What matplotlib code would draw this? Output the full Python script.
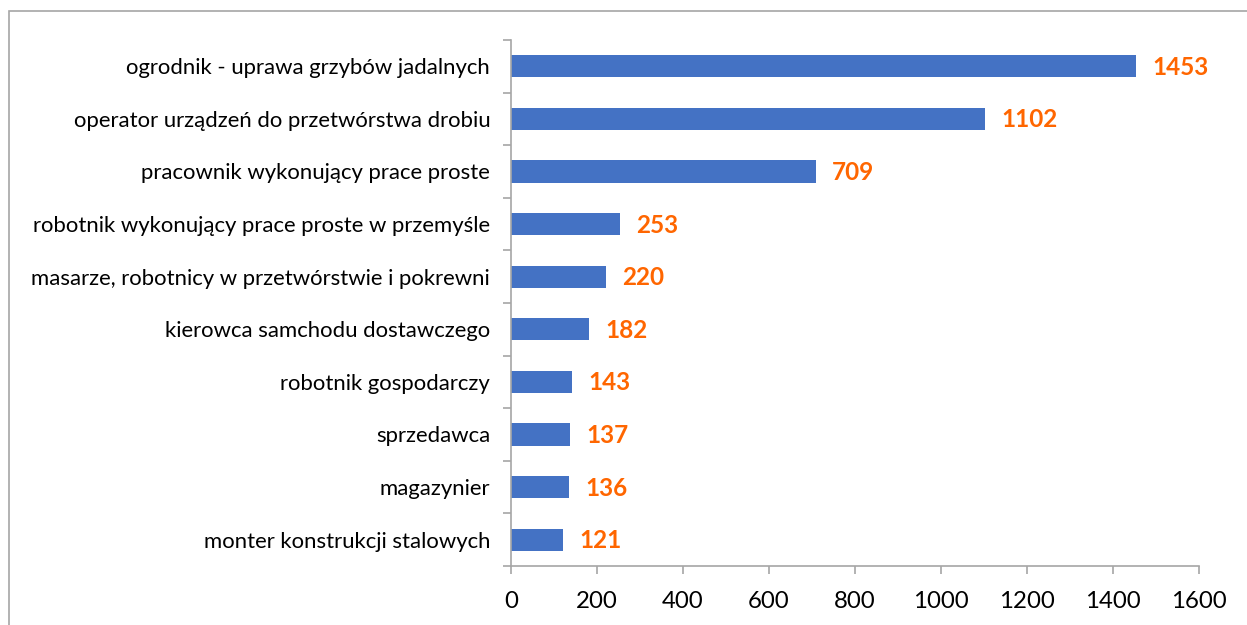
import matplotlib.pyplot as plt
from matplotlib.patches import Rectangle

# dane (od góry)
zawody = [
    'ogrodnik - uprawa grzybów jadalnych',
    'operator urządzeń do przetwórstwa drobiu',
    'pracownik wykonujący prace proste',
    'robotnik wykonujący prace proste w przemyśle',
    'masarze, robotnicy w przetwórstwie i pokrewni',
    'kierowca samchodu dostawczego',
    'robotnik gospodarczy',
    'sprzedawca',
    'magazynier',
    'monter konstrukcji stalowych',
]
liczba = [1453, 1102, 709, 253, 220, 182, 143, 137, 136, 121]
x_ticks = [0, 200, 400, 600, 800, 1000, 1200, 1400, 1600]

plt.rcParams['font.family'] = ['Lato', 'DejaVu Sans']

fig = plt.figure(figsize=(12.47, 6.25), dpi=100)
ax = fig.add_axes([511 / 1247, 1 - 566 / 625, 688 / 1247, 526 / 625])

# ramka wykresu (ucięta na krawędziach)
fig.patches.append(Rectangle((8.5 / 1247, -0.1), 1.2, 1 - 10.5 / 625 + 0.1,
                             transform=fig.transFigure, fill=False,
                             edgecolor='#A6A6A6', linewidth=1.2))

pos = list(range(len(zawody)))
ax.barh(pos, liczba, height=0.42, color='#4472C4')
for p, v in zip(pos, liczba):
    ax.text(v + 38, p + 0.02, str(v), va='center', ha='left', fontsize=17.5,
            fontweight='bold', color='#FF6600')

ax.set_ylim(len(zawody) - 0.5, -0.5)
ax.set_xlim(0, 1600)
ax.set_xticks(x_ticks)
ax.set_xticklabels([str(t) for t in x_ticks], fontsize=17.3)
ax.set_yticks(pos)
ax.set_yticklabels(zawody, fontsize=15.9)
ax.set_yticks([p + 0.5 for p in range(-1, len(zawody))], minor=True)

for s in ['top', 'right']:
    ax.spines[s].set_visible(False)
for s in ['left', 'bottom']:
    ax.spines[s].set_color('#A6A6A6')
    ax.spines[s].set_linewidth(1.2)
ax.tick_params(axis='y', which='major', length=0, pad=15)
ax.tick_params(axis='y', which='minor', length=6, color='#A6A6A6', width=1.2)
ax.tick_params(axis='x', length=6, color='#A6A6A6', width=1.2, pad=12)

fig.savefig('out.png', dpi=100)
